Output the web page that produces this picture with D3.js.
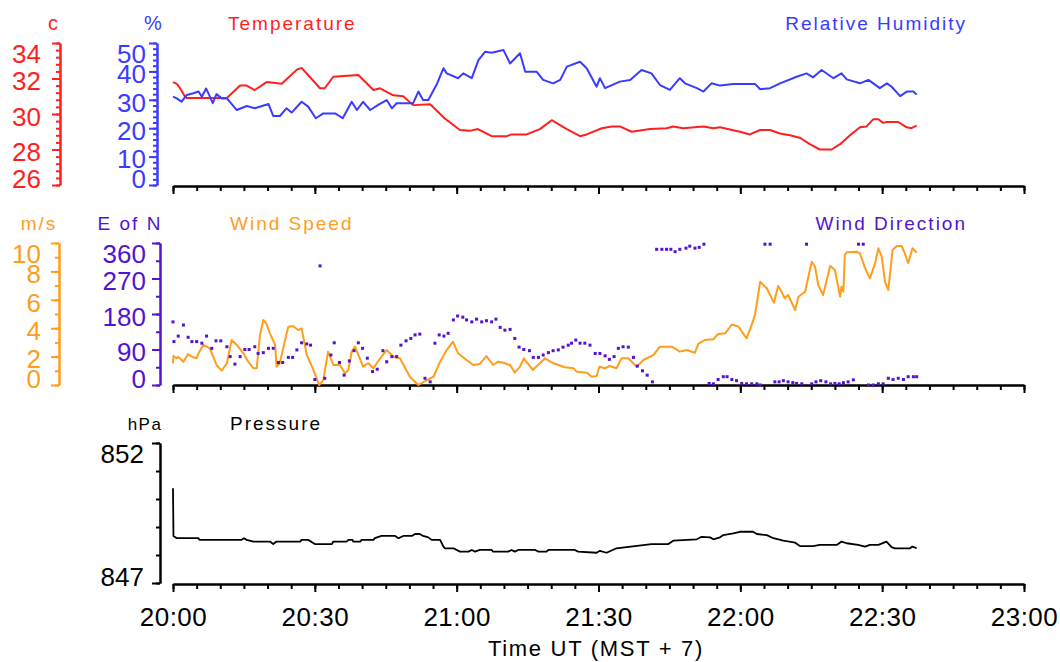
<!DOCTYPE html>
<html>
<head>
<meta charset="utf-8">
<script src="https://cdn.jsdelivr.net/npm/d3@7"></script>
<style>
body { margin: 0; background: #fff; }
text { font-family: "Liberation Sans", Arial, sans-serif; }
</style>
</head>
<body>
<svg id="chart" width="1060" height="662"></svg>
<script>
// minutes after 20:00 UT, value
var timeLabels = ["20:00", "20:30", "21:00", "21:30", "22:00", "22:30", "23:00"];

var tempData = [[0,31.8],[0.8,31.7],[1.5,31.45],[2.5,31.0],[2.9,30.9],[11.4,30.9],[14.2,31.6],[15.6,31.6],[17.3,31.35],[19.8,31.8],[23.0,31.7],[26.2,32.5],[27.2,32.6],[31.1,31.45],[32.1,31.45],[33.9,32.1],[39.2,32.2],[42.4,31.35],[43.8,31.45],[46.6,31.05],[48.7,31.0],[50.8,30.5],[54.4,30.55],[57.5,29.75],[60.7,29.1],[62.8,29.05],[64.5,29.15],[67.4,28.75],[70.6,28.75],[71.6,28.85],[74.8,28.85],[77.6,29.15],[80.1,29.65],[83.3,29.15],[86.1,28.75],[87.5,28.85],[90.7,29.2],[92.8,29.3],[94.5,29.3],[97.0,29.0],[100.9,29.15],[104.4,29.2],[105.8,29.3],[107.9,29.2],[112.2,29.3],[114.3,29.2],[115.7,29.25],[119.9,29.0],[122.0,28.85],[124.2,29.1],[126.3,29.1],[128.4,28.9],[130.5,28.8],[132.7,28.65],[134.7,28.3],[136.8,28.0],[139.3,28.0],[141.1,28.3],[143.2,28.8],[145.3,29.25],[146.7,29.3],[148.1,29.7],[149.2,29.7],[150.2,29.5],[150.9,29.55],[153.4,29.55],[155.2,29.25],[156.2,29.2],[157.3,29.35]];

var rhData = [[0,31.1],[0.8,30.5],[1.8,29.3],[2.9,31.7],[4.3,32.3],[5.4,32.9],[6.1,31.1],[7.0,34.0],[7.8,31.1],[8.4,28.8],[9.2,32.0],[10.3,30.5],[11.4,30.5],[13.5,26.4],[15.6,27.8],[17.3,27.0],[20.2,28.5],[21.2,24.3],[22.6,24.3],[24.0,27.0],[25.1,25.5],[27.2,29.3],[28.6,27.6],[30.2,23.5],[31.8,25.2],[34.3,25.2],[35.9,23.5],[37.8,29.3],[38.9,26.4],[40.2,29.3],[41.7,26.4],[43.4,28.2],[45.2,29.9],[46.3,27.0],[47.3,28.8],[50.8,28.8],[51.9,32.9],[52.9,29.9],[54.0,29.9],[55.8,35.5],[57.2,41.1],[57.9,39.3],[60.3,37.6],[61.4,39.3],[63.2,37.6],[64.6,44.0],[66.0,46.9],[67.4,46.6],[69.9,47.5],[71.3,42.8],[73.4,46.4],[74.5,39.9],[76.9,39.9],[78.3,37.0],[80.4,35.8],[81.9,37.0],[83.3,41.7],[86.1,43.4],[87.5,41.1],[89.6,34.6],[90.3,37.6],[91.4,34.1],[94.5,36.4],[96.7,37.0],[99.1,40.5],[101.2,39.3],[103.0,35.2],[105.1,33.5],[107.2,37.6],[108.3,35.8],[110.8,34.1],[112.2,32.9],[113.9,35.8],[115.7,35.0],[118.5,35.6],[123.1,35.6],[124.2,33.7],[126.3,34.1],[128.4,35.8],[131.9,38.1],[134.0,39.3],[135.4,37.9],[137.2,40.5],[139.7,37.6],[141.4,39.3],[142.5,37.2],[145.3,35.8],[147.1,37.0],[149.5,34.1],[151.0,35.8],[152.0,34.6],[153.8,31.3],[155.2,32.9],[156.6,32.9],[157.3,31.9]];

var speedData = [[0,1.53],[0.1,2.04],[0.8,1.88],[1.1,1.99],[2.2,1.64],[3.2,2.18],[4.0,1.99],[5.0,1.88],[5.4,2.23],[6.4,2.82],[7.8,2.58],[9.2,1.41],[10.3,1.01],[11.4,1.53],[12.4,3.17],[13.5,2.82],[14.9,2.23],[15.9,1.64],[17.0,1.18],[17.7,1.18],[18.4,3.52],[19.1,4.58],[19.7,4.35],[20.5,3.64],[21.6,2.82],[21.9,1.29],[22.6,1.53],[23.7,3.17],[24.4,4.11],[25.4,4.15],[26.5,3.87],[27.2,3.99],[28.3,2.11],[29.7,1.06],[30.9,0],[31.8,0.35],[32.8,2.35],[33.9,1.41],[35.3,1.41],[36.4,0.82],[37.1,1.06],[37.8,2.35],[38.5,2.70],[40.2,1.29],[41.3,1.53],[42.4,1.18],[43.8,1.88],[45.2,2.46],[46.6,1.99],[48.0,1.88],[50.1,0.58],[51.9,0],[53.7,0.35],[55.1,0.58],[56.5,1.64],[57.9,2.46],[59.2,3.05],[60.3,2.23],[62.1,1.76],[63.5,1.41],[64.9,1.48],[66.3,2.04],[67.7,1.41],[68.8,1.64],[69.9,1.57],[71.3,1.41],[72.3,0.87],[73.4,1.29],[74.2,1.88],[76.1,1.06],[78.7,1.88],[80.4,1.53],[82.9,1.25],[84.7,1.18],[85.4,0.94],[87.5,0.87],[88.6,0.58],[89.6,0.63],[90.2,1.29],[91.4,1.18],[92.4,1.34],[93.8,1.18],[94.9,1.88],[96.3,1.88],[98.1,1.29],[99.5,1.76],[101.6,2.11],[103.0,2.70],[105.5,2.70],[107.2,2.35],[108.7,2.46],[110.4,2.27],[111.1,2.89],[112.5,3.17],[114.3,3.22],[115.3,3.59],[116.8,3.64],[118.2,4.26],[119.6,4.11],[121.3,3.29],[122.4,4.23],[123.1,4.93],[124.2,7.27],[125.6,6.81],[127.1,5.80],[128.0,6.97],[128.7,6.57],[129.4,6.11],[130.1,6.34],[131.6,5.28],[132.3,6.22],[133.7,6.57],[135.1,8.68],[135.8,8.33],[136.5,7.04],[137.5,6.34],[139.0,8.38],[140.0,8.10],[141.1,6.22],[141.4,6.92],[141.8,6.57],[142.1,9.15],[142.5,9.35],[144.6,9.39],[145.3,9.27],[146.4,8.22],[147.4,7.51],[148.5,8.57],[149.2,9.63],[149.9,9.04],[150.6,7.27],[151.3,6.69],[152.2,9.51],[153.1,9.79],[154.1,9.79],[154.8,9.27],[155.5,8.57],[155.9,9.04],[156.4,9.63],[157.3,9.32]];

var dirData = [[0,160],[0.2,110],[1.1,124],[2.2,152],[3.2,121],[4.0,110],[5.0,110],[6.1,106],[7.1,124],[8.2,93],[9.1,112],[10.1,112],[11.4,97],[12.1,72],[13.1,53],[14.2,72],[15.2,90],[16.1,90],[17.3,97],[18.0,80],[19.1,82],[20.2,93],[21.2,93],[22.3,57],[23.2,57],[24.4,70],[25.3,70],[26.2,89],[27.2,107],[28.3,104],[29.1,101],[30.0,14],[31.1,302],[32.1,17],[33.4,76],[34.1,107],[35.2,57],[36.2,25],[37.3,61],[38.3,87],[39.2,107],[40.1,93],[41.1,68],[42.2,34],[43.2,40],[44.4,87],[45.2,59],[46.3,72],[47.3,72],[48.2,101],[49.3,112],[50.3,118],[51.2,127],[52.2,129],[53.3,17],[54.4,8],[55.4,106],[56.3,127],[57.3,124],[58.2,131],[59.3,165],[60.2,175],[61.3,172],[62.1,165],[63.2,160],[64.2,167],[65.3,160],[66.3,163],[67.4,160],[68.3,167],[69.2,146],[70.2,139],[71.3,141],[72.3,118],[73.2,96],[74.2,90],[75.4,87],[76.2,70],[77.3,70],[78.3,76],[79.4,82],[80.4,87],[81.5,89],[82.5,96],[83.6,101],[84.3,106],[85.2,114],[86.1,106],[87.1,106],[88.2,101],[89.3,80],[90.3,80],[91.4,74],[92.3,65],[93.3,72],[94.2,93],[95.2,97],[96.3,96],[97.4,70],[98.2,48],[99.3,36],[100.3,25],[101.4,8],[102.3,344],[103.4,344],[104.4,344],[105.3,344],[106.2,338],[107.2,344],[108.5,347],[109.3,352],[110.4,347],[111.3,349],[112.3,357],[113.4,4],[114.3,3],[115.3,14],[116.4,21],[117.2,21],[118.2,14],[119.2,11],[120.3,4],[121.3,3],[122.4,3],[123.5,3],[124.2,0],[125.2,357],[126.3,357],[127.3,8],[128.2,8],[129.1,11],[130.1,8],[131.1,6],[131.9,4],[133.0,3],[134.0,357],[135.1,3],[136.0,8],[137.0,11],[138.1,8],[139.1,3],[140.0,4],[140.9,3],[141.8,6],[142.8,8],[143.9,13],[145.0,357],[146.0,357],[147.1,0],[148.1,0],[149.2,3],[150.2,3],[151.3,17],[152.3,14],[153.4,17],[154.5,14],[155.5,21],[156.6,21],[157.3,21]];

var pressureData = [[0,850.38],[0.1,848.68],[0.8,848.60],[5.4,848.60],[5.6,848.54],[14.5,848.54],[15.0,848.60],[15.6,848.54],[17.0,848.48],[20.5,848.48],[21.2,848.39],[21.9,848.48],[26.9,848.48],[27.2,848.54],[28.6,848.54],[30.0,848.39],[33.6,848.39],[33.9,848.48],[36.7,848.48],[37.1,848.54],[38.0,848.54],[38.1,848.48],[39.6,848.48],[39.9,848.54],[42.4,848.54],[42.7,848.60],[44.1,848.68],[47.0,848.68],[47.7,848.60],[48.7,848.68],[50.5,848.68],[51.2,848.75],[52.2,848.75],[52.9,848.68],[54.0,848.63],[54.7,848.54],[56.5,848.54],[57.2,848.30],[57.5,848.24],[59.3,848.24],[60.7,848.12],[62.5,848.12],[63.2,848.18],[63.9,848.12],[64.9,848.18],[67.4,848.18],[67.7,848.12],[70.9,848.12],[71.6,848.18],[72.3,848.12],[73.0,848.18],[76.6,848.18],[77.3,848.12],[79.0,848.12],[79.4,848.18],[85.0,848.18],[85.7,848.12],[89.6,848.08],[90.3,848.15],[91.7,848.08],[93.8,848.24],[97.7,848.32],[101.2,848.39],[104.8,848.39],[105.8,848.51],[110.8,848.56],[111.8,848.65],[113.6,848.63],[114.3,848.56],[115.7,848.63],[116.4,848.71],[118.5,848.77],[119.9,848.83],[122.7,848.83],[123.5,848.75],[125.6,848.71],[127.0,848.60],[129.1,848.51],[131.6,848.44],[132.6,848.32],[135.4,848.32],[136.8,848.36],[140.4,848.36],[141.4,848.48],[142.5,848.42],[144.9,848.36],[146.4,848.30],[147.4,848.36],[149.2,848.36],[150.9,848.48],[152.0,848.28],[152.7,848.24],[155.9,848.24],[156.4,848.30],[157.3,848.24]];

var tempTicks = [26, 28, 30, 32, 34];
var rhTicks = [0, 10, 20, 30, 40, 50];
var speedTicks = [0, 2, 4, 6, 8, 10];
var dirTicks = [0, 90, 180, 270, 360];
var presTicks = [847, 852];

var RED = "#ff1f1f", BLUE = "#3b3bff", ORANGE = "#ff9d1c", PURPLE = "#5214d2";

var svg = d3.select("#chart");

var x = d3.scaleLinear().domain([0, 180]).range([173, 1024]);

// panel edges
var tTop = 43, tBot = 185;
var wTop = 243, wBot = 385;
var pTop = 443, pBot = 583;

var yTemp = d3.scaleLinear().domain([26, 34]).range([tBot, tTop]);
var yRH = d3.scaleLinear().domain([0, 50]).range([tBot, tTop]);
var ySpd = d3.scaleLinear().domain([0, 10]).range([wBot, wTop]);
var yDir = d3.scaleLinear().domain([0, 360]).range([wBot, wTop]);
var yPres = d3.scaleLinear().domain([847, 852]).range([pBot, pTop]);

function yAxis(scale, major, minorStep, xPos, color, labelRight, top, bot) {
    var g = svg.append("g").attr("transform", "translate(" + xPos + ",0)");
    var dom = scale.domain();
    var minor = d3.range(dom[0], dom[1] + minorStep / 2, minorStep);
    g.call(d3.axisLeft(scale).tickValues(minor).tickSize(4).tickSizeOuter(0).tickFormat(""));
    var gm = g.append("g")
        .call(d3.axisLeft(scale).tickValues(major).tickSize(8).tickSizeOuter(0).tickFormat(d3.format("d")));
    g.selectAll("path, line").attr("stroke", color).attr("stroke-width", 2);
    gm.attr("font-family", null).attr("font-size", null);
    gm.selectAll("text")
        .attr("x", labelRight - xPos)
        .attr("text-anchor", "end")
        .attr("fill", color)
        .style("font-size", "26px")
        .attr("y", function(d) {
            var c = Math.max(top + 10, Math.min(bot - 7, scale(d) + 2));
            return c - scale(d);
        })
        .attr("dy", "0.36em");
}

function xAxis(yPos, withLabels) {
    var g = svg.append("g").attr("transform", "translate(0," + yPos + ")");
    g.call(d3.axisBottom(x).tickValues(d3.range(0, 181, 5)).tickSize(5).tickSizeOuter(0).tickFormat(""));
    var gm = g.append("g").call(d3.axisBottom(x).tickValues(d3.range(0, 181, 30)).tickSize(8).tickSizeOuter(0)
        .tickFormat(function(d, i) { return withLabels ? timeLabels[i] : ""; }));
    g.selectAll("path, line").attr("stroke", "#000").attr("stroke-width", 2);
    gm.attr("font-family", null).attr("font-size", null);
    gm.selectAll("text").attr("fill", "#000").style("font-size", "26px")
        .style("letter-spacing", "0.5px")
        .attr("y", 33).attr("dy", "0.36em");
}

function label(txt, xPos, yPos, color, size, anchor, spacing) {
    svg.append("text").attr("x", xPos).attr("y", yPos)
        .attr("fill", color).attr("text-anchor", anchor || "start")
        .style("font-size", size + "px")
        .style("letter-spacing", (spacing || 0) + "px")
        .text(txt);
}

// axes
yAxis(yTemp, tempTicks, 0.4, 60, RED, 41, tTop, tBot);
yAxis(yRH, rhTicks, 2, 157, BLUE, 146, tTop, tBot);
yAxis(ySpd, speedTicks, 1, 59, ORANGE, 41, wTop, wBot);
yAxis(yDir, dirTicks, 45, 160, PURPLE, 146, wTop, wBot);
yAxis(yPres, presTicks, 1, 160, "#000", 144, pTop, pBot);
xAxis(186, false);
xAxis(385, false);
xAxis(584, true);

// titles and units
label("c", 53, 30, RED, 20, "middle");
label("%", 153, 30, BLUE, 20, "middle");
label("Temperature", 228, 30, RED, 19, "start", 2);
label("Relative Humidity", 967, 30, BLUE, 19, "end", 2);
label("m/s", 39, 230, ORANGE, 19, "middle", 2);
label("E of N", 130, 230, PURPLE, 19, "middle", 2);
label("Wind Speed", 230, 230, ORANGE, 19, "start", 2);
label("Wind Direction", 967, 230, PURPLE, 19, "end", 2);
label("hPa", 145, 430, "#000", 17, "middle", 1.5);
label("Pressure", 230, 430, "#000", 19, "start", 2);
label("Time UT (MST + 7)", 596, 656, "#000", 22, "middle", 1.7);

// series
function drawLine(data, yScale, color, width) {
    svg.append("path").datum(data)
        .attr("fill", "none").attr("stroke", color).attr("stroke-width", width)
        .attr("stroke-linejoin", "round")
        .attr("d", d3.line().x(function(d) { return x(d[0]); }).y(function(d) { return yScale(d[1]); }));
}

drawLine(tempData, yTemp, RED, 2);
drawLine(rhData, yRH, BLUE, 2);
drawLine(speedData, ySpd, ORANGE, 2);

svg.append("g").selectAll("rect").data(dirData).enter().append("rect")
    .attr("x", function(d) { return x(d[0]) - 1.5; })
    .attr("y", function(d) { return yDir(d[1]) - 1.5; })
    .attr("width", 3).attr("height", 3)
    .attr("fill", PURPLE);

drawLine(pressureData, yPres, "#000", 1.8);
</script>
</body>
</html>
